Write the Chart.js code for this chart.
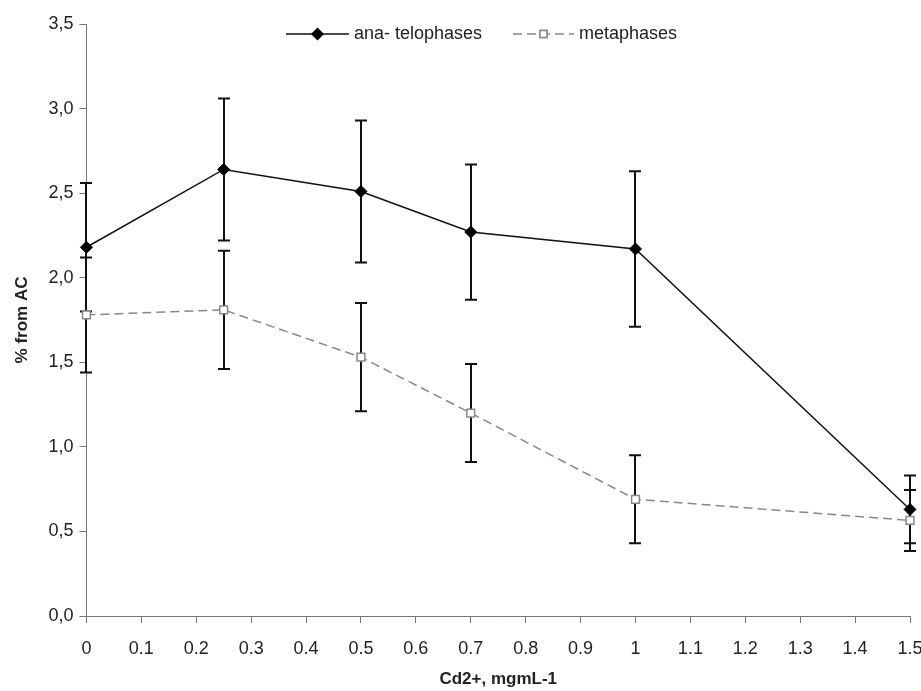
<!DOCTYPE html>
<html>
<head>
<meta charset="utf-8">
<script src="https://cdn.jsdelivr.net/npm/chart.js@4/dist/chart.umd.min.js"></script>
<style>
  html, body { margin: 0; padding: 0; background: #fff; }
  #wrap { width: 921px; height: 691px; }
</style>
</head>
<body>
<div id="wrap"><canvas id="chart"></canvas></div>
<script>
// concentrations of Cd2+ (mg/mL)
const doses = [0, 0.25, 0.5, 0.7, 1, 1.5];

// % from AC
const anaTelo = [2.18, 2.64, 2.51, 2.27, 2.17, 0.63];
const anaErr = [0.38, 0.42, 0.42, 0.40, 0.46, 0.20];
const meta = [1.78, 1.81, 1.53, 1.20, 0.69, 0.565];
const metaErr = [0.34, 0.35, 0.32, 0.29, 0.26, 0.18];

const seriesNames = ['ana- telophases', 'metaphases'];
const yTicks = [0, 0.5, 1, 1.5, 2, 2.5, 3, 3.5];

const FONT = '"Liberation Sans", Arial, sans-serif';

const toPoints = (vals) => vals.map((v, i) => ({ x: doses[i], y: v }));

// error bars drawn under the lines/markers
const errorBars = {
  id: 'errorBars',
  beforeDatasetsDraw(chart) {
    const { ctx, scales: { x, y } } = chart;
    const sets = [[anaTelo, anaErr], [meta, metaErr]];
    ctx.save();
    ctx.strokeStyle = '#111';
    ctx.lineWidth = 2;
    sets.forEach(([vals, errs]) => {
      vals.forEach((v, i) => {
        const px = Math.round(x.getPixelForValue(doses[i]));
        const top = y.getPixelForValue(v + errs[i]);
        const bot = y.getPixelForValue(v - errs[i]);
        ctx.beginPath();
        ctx.moveTo(px, top);
        ctx.lineTo(px, bot);
        ctx.moveTo(px - 6, top);
        ctx.lineTo(px + 6, top);
        ctx.moveTo(px - 6, bot);
        ctx.lineTo(px + 6, bot);
        ctx.stroke();
      });
    });
    ctx.restore();
  }
};

// legend like the original: line sample with marker in the middle
const lineLegend = {
  id: 'lineLegend',
  afterDraw(chart) {
    const { ctx } = chart;
    const yy = 34;
    const items = [
      { x0: 286, x1: 349, text: seriesNames[0], ds: chart.data.datasets[0] },
      { x0: 513, x1: 574, text: seriesNames[1], ds: chart.data.datasets[1] }
    ];
    ctx.save();
    items.forEach(it => {
      const ds = it.ds;
      ctx.strokeStyle = ds.borderColor;
      ctx.lineWidth = ds.borderWidth;
      ctx.setLineDash(ds.borderDash || []);
      ctx.beginPath();
      ctx.moveTo(it.x0, yy);
      ctx.lineTo(it.x1, yy);
      ctx.stroke();
      ctx.setLineDash([]);
      Chart.helpers.drawPoint(ctx, {
        pointStyle: ds.pointStyle,
        rotation: 0,
        radius: ds.pointRadius - 0.5,
        borderWidth: ds.pointBorderWidth
      }, (it.x0 + it.x1) / 2, yy);
      ctx.fillStyle = ds.pointBackgroundColor;
      ctx.strokeStyle = ds.pointBorderColor;
      ctx.lineWidth = ds.pointBorderWidth;
      ctx.fill();
      ctx.stroke();
      ctx.fillStyle = '#222';
      ctx.font = '18px ' + FONT;
      ctx.textBaseline = 'middle';
      ctx.fillText(it.text, it.x1 + 5, yy);
    });
    ctx.restore();
  }
};

new Chart(document.getElementById('chart'), {
  type: 'line',
  data: {
    datasets: [
      {
        label: seriesNames[0],
        data: toPoints(anaTelo),
        borderColor: '#111',
        borderWidth: 1.5,
        pointStyle: 'rectRot',
        pointRadius: 6,
        pointBackgroundColor: '#000',
        pointBorderColor: '#000',
        pointBorderWidth: 1,
        tension: 0,
        clip: false
      },
      {
        label: seriesNames[1],
        data: toPoints(meta),
        borderColor: '#888',
        borderWidth: 1.5,
        borderDash: [9, 5],
        pointStyle: 'rect',
        pointRadius: 5.5,
        pointBackgroundColor: '#fff',
        pointBorderColor: '#888',
        pointBorderWidth: 1.5,
        tension: 0,
        clip: false
      }
    ]
  },
  options: {
    responsive: true,
    maintainAspectRatio: false,
    animation: false,
    layout: { padding: { top: 24, right: 0, left: 12, bottom: 0 } },
    plugins: {
      legend: { display: false },
      tooltip: { enabled: false }
    },
    scales: {
      x: {
        type: 'linear',
        min: 0,
        max: 1.5,
        afterFit: s => { s.paddingRight = 11; },
        ticks: {
          stepSize: 0.1,
          color: '#222',
          font: { family: FONT, size: 18 },
          padding: 15,
          maxRotation: 0,
          autoSkip: false,
          callback: v => String(Number(v.toFixed(1)))
        },
        grid: { drawOnChartArea: false, color: '#777', tickLength: 7 },
        border: { color: '#777', width: 1 },
        title: {
          display: true,
          text: 'Cd2+, mgmL-1',
          color: '#222',
          font: { family: FONT, size: 17, weight: 'bold' },
          padding: { top: -5, bottom: 1 }
        }
      },
      y: {
        min: 0,
        max: 3.5,
        afterBuildTicks: axis => { axis.ticks = yTicks.map(v => ({ value: v })); },
        ticks: {
          color: '#222',
          font: { family: FONT, size: 18 },
          padding: 6,
          callback: v => v.toFixed(1).replace('.', ',')
        },
        grid: { drawOnChartArea: false, color: '#777', tickLength: 7 },
        border: { color: '#777', width: 1 },
        title: {
          display: true,
          text: '% from AC',
          color: '#222',
          font: { family: FONT, size: 17, weight: 'bold' },
          padding: { top: 0, bottom: 10 }
        }
      }
    }
  },
  plugins: [errorBars, lineLegend]
});
</script>
</body>
</html>
